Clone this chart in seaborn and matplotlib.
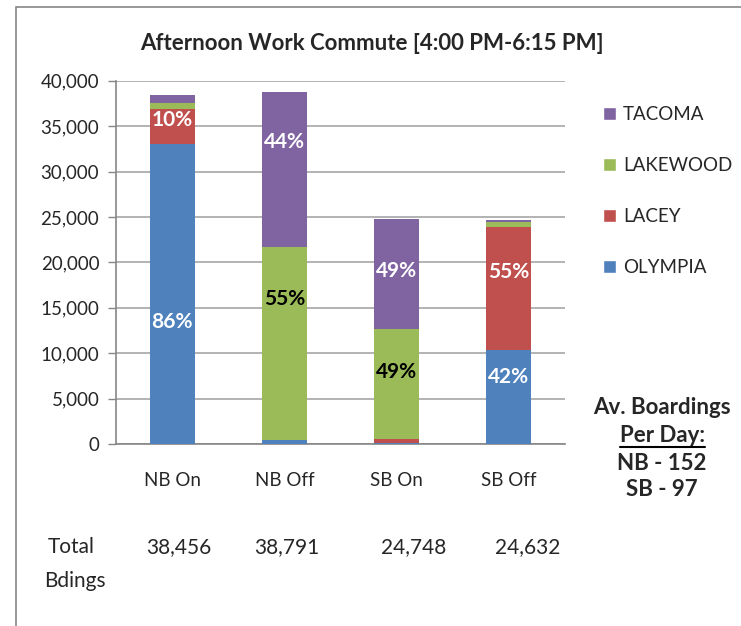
import numpy as np
import pandas as pd
import matplotlib
matplotlib.use('Agg')
import matplotlib.pyplot as plt
import seaborn as sns
from matplotlib.lines import Line2D
from matplotlib.patches import Rectangle, Patch

# Data
categories = ['NB On', 'NB Off', 'SB On', 'SB Off']
olympia = [33072, 388, 100, 10345]
lacey = [3846, 0, 400, 13548]
lakewood = [580, 21335, 12127, 600]
tacoma = [958, 17068, 12121, 139]
totals = ['38,456', '38,791', '24,748', '24,632']

# percent labels shown on the chart: (category index, series, text)
pct_labels = [
    (0, 'OLYMPIA', '86%'), (0, 'LACEY', '10%'),
    (1, 'LAKEWOOD', '55%'), (1, 'TACOMA', '44%'),
    (2, 'LAKEWOOD', '49%'), (2, 'TACOMA', '49%'),
    (3, 'OLYMPIA', '42%'), (3, 'LACEY', '55%'),
]
# where excel left those labels (y in data units)
label_y = [13400, 35700, 16000, 33300, 7960, 19050, 7350, 18980]

series = ['OLYMPIA', 'LACEY', 'LAKEWOOD', 'TACOMA']
colors = {'OLYMPIA': '#4F81BD', 'LACEY': '#C0504D',
          'LAKEWOOD': '#9BBB59', 'TACOMA': '#8064A2'}

df = pd.DataFrame({'cat': categories, 'OLYMPIA': olympia, 'LACEY': lacey,
                   'LAKEWOOD': lakewood, 'TACOMA': tacoma})

sns.set_style('white')
plt.rcParams['font.family'] = ['Lato', 'DejaVu Sans']

W, H = 741, 626
fig = plt.figure(figsize=(W / 100, H / 100), dpi=100)
ax = fig.add_axes([116 / W, 1 - 444 / H, (565 - 116) / W, (444 - 80.7) / H])

# stacked bars
bottom = np.zeros(len(categories))
for s in series:
    sns.barplot(data=df, x='cat', y=s, color=colors[s], bottom=bottom,
                width=0.4, ax=ax, saturation=1, edgecolor='none', zorder=3)
    bottom = bottom + df[s].values

# percent labels
for (i, s, txt), y in zip(pct_labels, label_y):
    c = 'black' if s == 'LAKEWOOD' else 'white'
    ax.text(i, y, txt, ha='center', va='center', color=c,
            fontsize=15, fontweight='bold', zorder=4)

ax.set_ylim(0, 40000)
ax.set_xlim(-0.5, 3.5)
ax.set_yticks(np.arange(0, 40001, 5000))
ax.set_yticklabels([f'{v:,}' for v in range(0, 40001, 5000)], fontsize=13.5)
ax.set_xticks(range(4))
ax.set_xticklabels(categories, fontsize=13.5)
ax.set_xticks(np.arange(-0.5, 4, 1), minor=True)
ax.tick_params(axis='x', which='major', length=0, pad=20)
ax.tick_params(axis='x', which='minor', length=6, color='#868686', width=1)
ax.tick_params(axis='y', length=6, color='#868686', width=1, left=True, pad=6)
ax.set_xlabel('')
ax.set_ylabel('')
ax.yaxis.grid(True, color='#A6A6A6', linewidth=1.2, zorder=0)
ax.set_axisbelow(True)
for side in ['top', 'right']:
    ax.spines[side].set_visible(False)
for side in ['left', 'bottom']:
    ax.spines[side].set_color('#868686')
    ax.spines[side].set_linewidth(1.2)

# legend, top entry first
handles = [Patch(facecolor=colors[s]) for s in series[::-1]]
fig.legend(handles, series[::-1], loc='upper left',
           bbox_to_anchor=(603 / W, 1 - 106 / H), frameon=False,
           fontsize=13.5, handlelength=0.7, handleheight=0.7,
           labelspacing=1.81, handletextpad=0.37,
           borderaxespad=0, borderpad=0)

# title
fig.text(372 / W, 1 - 43 / H, 'Afternoon Work Commute [4:00 PM-6:15 PM]',
         ha='center', va='center', fontsize=16, fontweight='bold')

# side note
fig.text(662 / W, 1 - 407 / H, 'Av. Boardings', ha='center', va='center',
         fontsize=16, fontweight='bold')
pd_txt = fig.text(662 / W, 1 - 435 / H, 'Per Day:', ha='center', va='center',
                  fontsize=16, fontweight='bold')
fig.text(662 / W, 1 - 463 / H, 'NB - 152', ha='center', va='center',
         fontsize=16, fontweight='bold')
fig.text(662 / W, 1 - 490 / H, 'SB - 97', ha='center', va='center',
         fontsize=16, fontweight='bold')
fig.canvas.draw()
bb = pd_txt.get_window_extent(fig.canvas.get_renderer())
fig.add_artist(Line2D([bb.x0 / W, bb.x1 / W], [(H - 447) / H, (H - 447) / H],
                      color='black', linewidth=1.5))

# totals row
fig.text(71 / W, 1 - 547 / H, 'Total', ha='center', va='center', fontsize=15)
fig.text(75 / W, 1 - 581 / H, 'Bdings', ha='center', va='center', fontsize=15)
for x, t in zip([179, 287, 414, 528], totals):
    fig.text(x / W, 1 - 547 / H, t, ha='center', va='center', fontsize=15)

# outer frame
fig.add_artist(Rectangle((16 / W, -0.01), 1.0, 1 - 7 / H + 0.01,
                         transform=fig.transFigure, fill=False,
                         edgecolor='#868686', linewidth=1.2))

fig.savefig('out.png', dpi=100)
